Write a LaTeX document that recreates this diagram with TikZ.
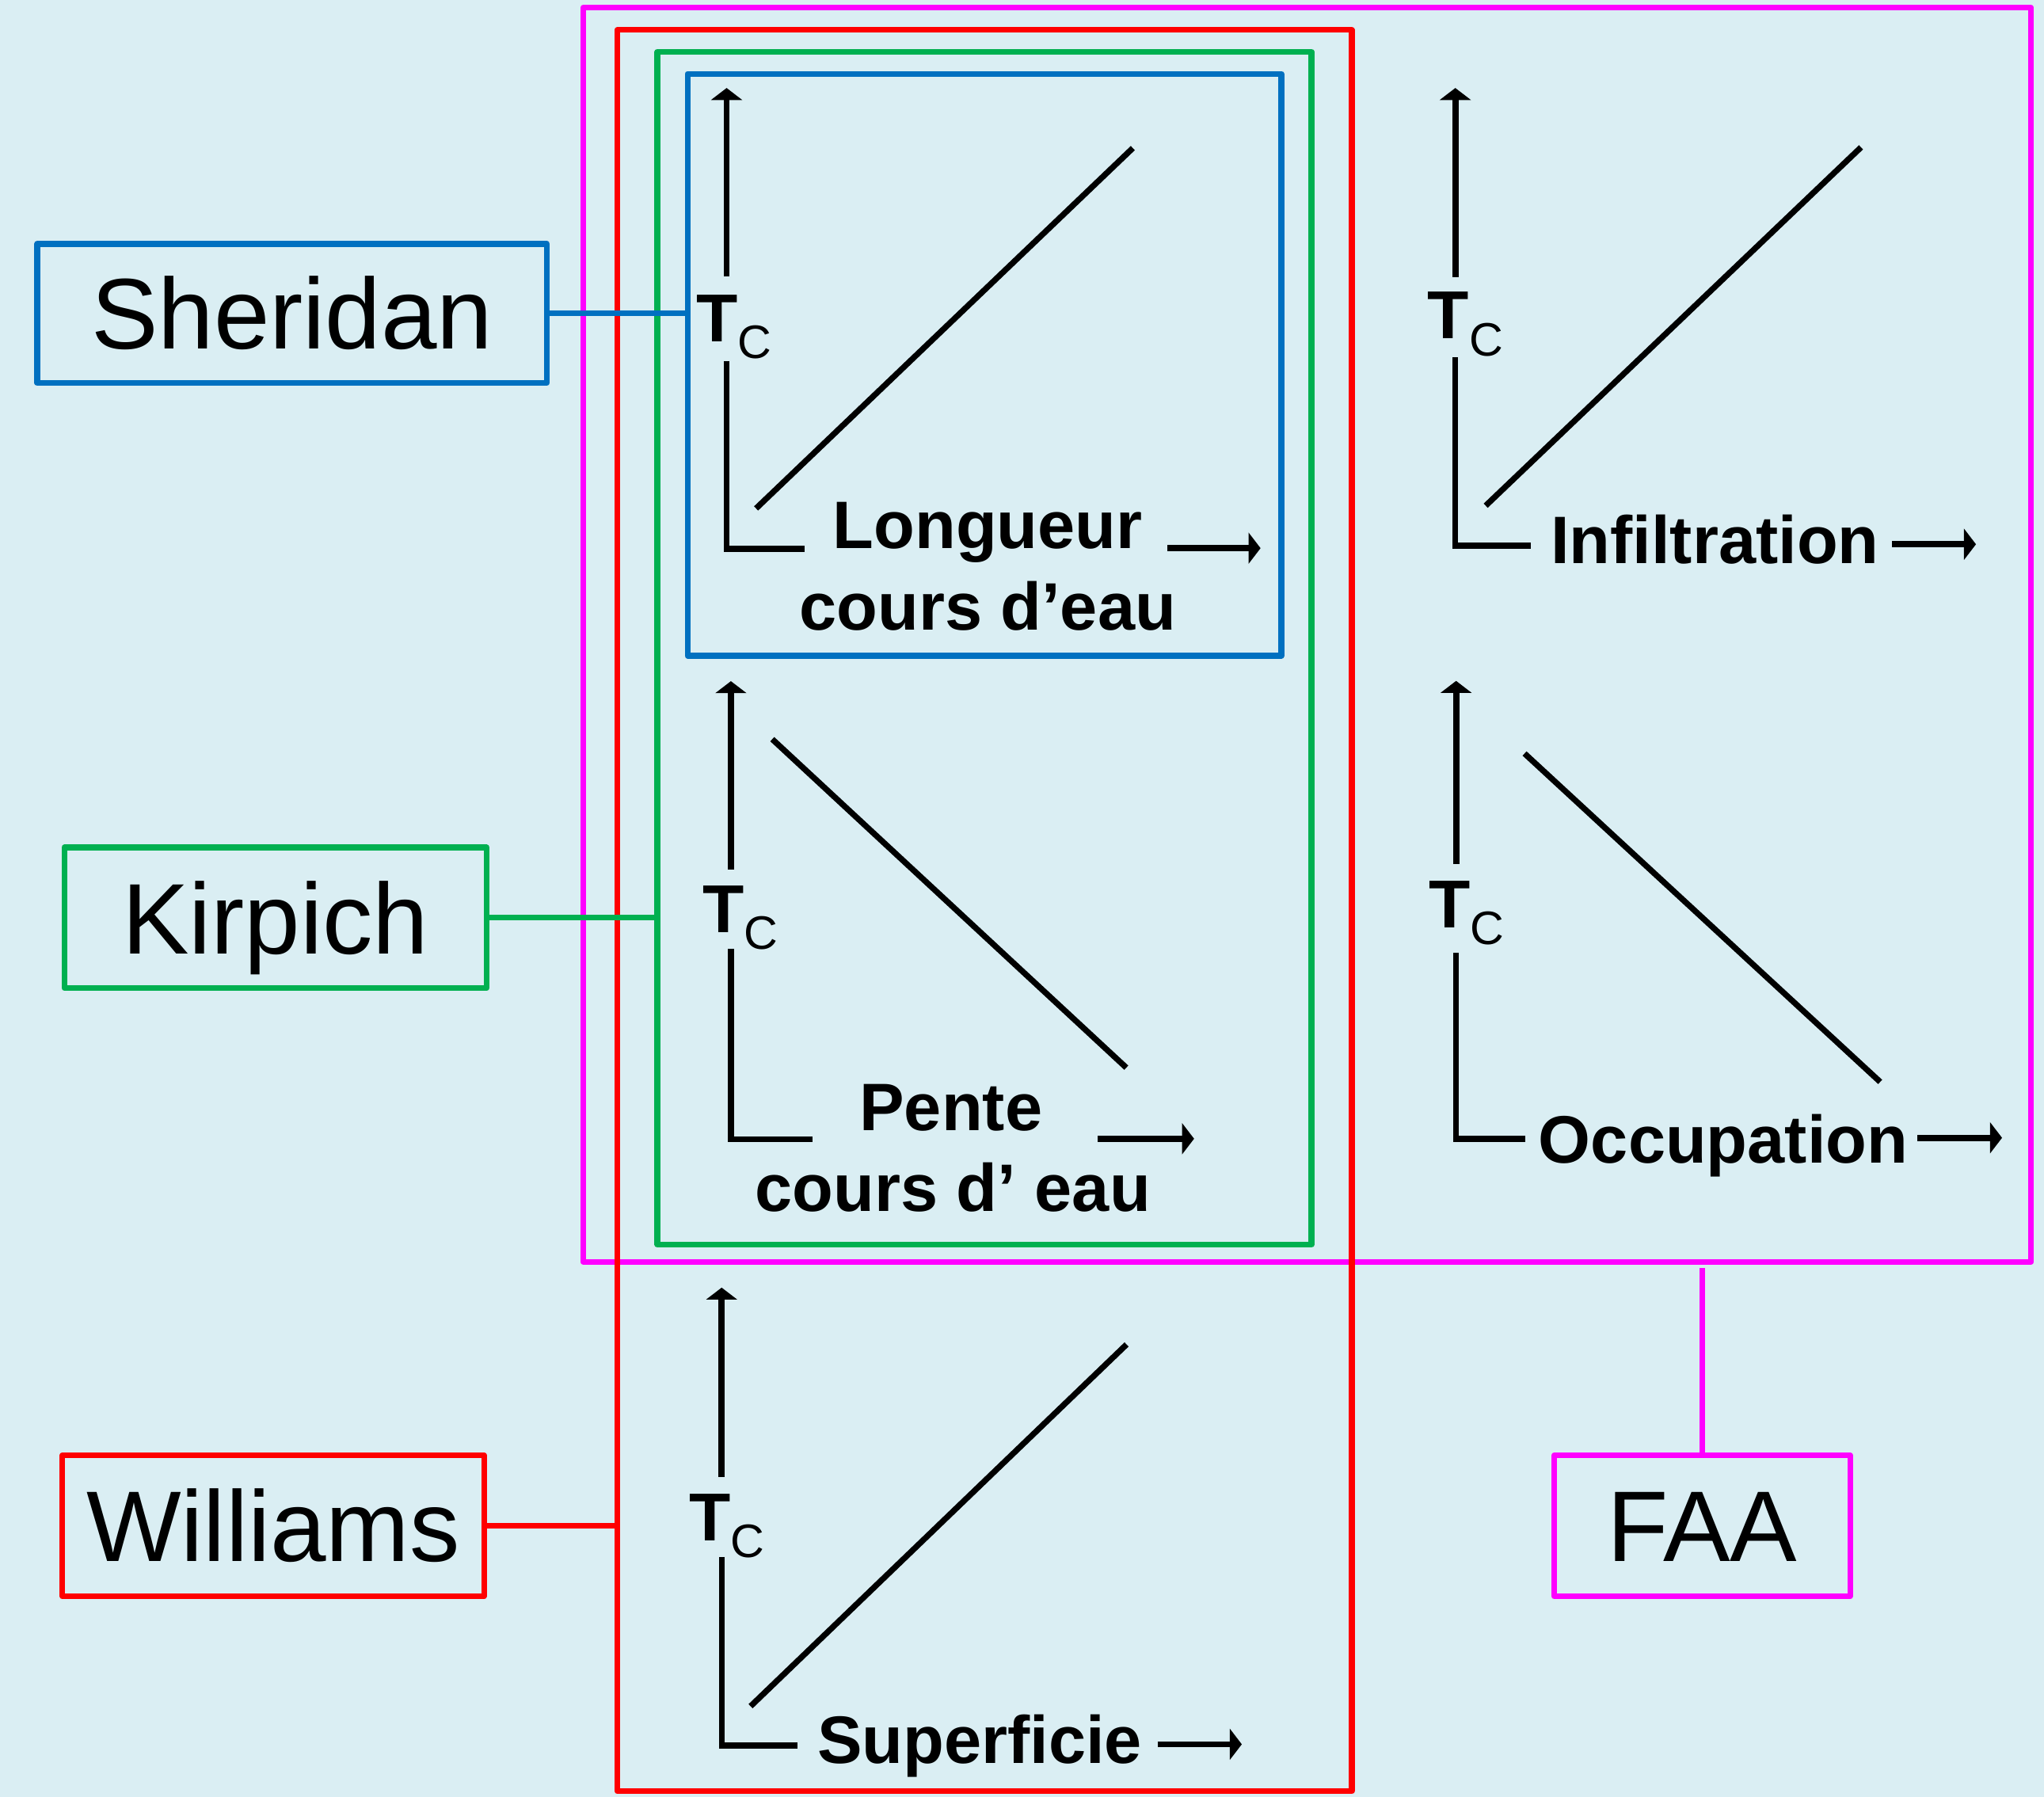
\documentclass[tikz,border=0pt]{standalone}
\usepackage{fontspec}
\setmainfont{Liberation Sans}
\usetikzlibrary{arrows.meta}
\definecolor{bgc}{HTML}{DAEEF3}
\definecolor{cblue}{HTML}{0070C0}
\definecolor{cgreen}{HTML}{00B050}
\definecolor{cred}{HTML}{FF0000}
\definecolor{cmag}{HTML}{FF00FF}
\newcommand{\TcLabel}{T\raisebox{-13pt}{\mdseries\fontsize{36}{40}\selectfont C}}
\begin{document}
\begin{tikzpicture}[x=1pt,y=-1pt,
  frame/.style={draw, line width=4.4pt, line join=round, inner sep=0pt, outer sep=0pt},
  namebox/.style={draw, line width=4.4pt, line join=round, inner sep=0pt, outer sep=0pt,
    text height=55pt, text depth=0pt, font=\fontsize{77}{80}\selectfont},
  link/.style={line width=4.2pt},
  axis/.style={line width=4.5pt, line join=miter},
  arr/.style={line width=4.7pt, -{Triangle[length=9.2pt,width=23.5pt]}},
  trend/.style={line width=4.5pt},
  vlab/.style={font=\bfseries\fontsize{51.5}{60}\selectfont, inner sep=0pt, anchor=base},
  tclab/.style={inner sep=0pt, anchor=base west, font=\bfseries\fontsize{52}{60}\selectfont}
]
% background / bounding box
\fill[bgc] (0,0) rectangle (1568,1378.4);
\useasboundingbox (0,0) rectangle (1568,1378.4);

% grouping frames
\node[frame, cmag, minimum width=1110.8pt, minimum height=962pt] (magframe) at (1002.7,486.9) {};
\node[frame, cred, minimum width=563.5pt, minimum height=1351pt] (redframe) at (755.25,698.5) {};
\node[frame, cgreen, minimum width=501.8pt, minimum height=914.9pt] (greenframe) at (755.2,497.25) {};
\node[frame, cblue, minimum width=455.5pt, minimum height=446.4pt] (blueframe) at (755.15,279.8) {};

% method boxes
\node[namebox, cblue, text=black, minimum width=391pt, minimum height=106.7pt] (sher) at (224,240.4) {Sheridan};
\node[namebox, cgreen, text=black, minimum width=323.9pt, minimum height=107.9pt] (kirp) at (211.3,704) {Kirpich};
\node[namebox, cred, text=black, minimum width=323.4pt, minimum height=108.1pt] (will) at (209.6,1170.4) {Williams};
\node[namebox, cmag, text=black, minimum width=226.9pt, minimum height=108.1pt] (faa) at (1305.8,1170.4) {FAA};

% connectors
\draw[link, cblue] (sher.east) -- (sher.east -| blueframe.west);
\draw[link, cgreen] (kirp.east) -- (kirp.east -| greenframe.west);
\draw[link, cred] (will.east) -- (will.east -| redframe.west);
\draw[link, cmag, shorten >=5pt] (faa.north) -- (faa.north |- magframe.south);

% ---- graph 1 : Longueur cours d'eau
\node[tclab] (tc1) at (534,262) {\TcLabel};
\draw[arr] (557.4,212) -- (557.4,67.5);
\draw[axis] (557.4,277) -- (557.4,421) -- (617,421);
\node[vlab] (l1a) at (757.7,421) {Longueur};
\node[vlab] (l1b) at (757.7,483) {cours d’eau};
\draw[arr] (895.5,420.5) -- (967,420.5);
\draw[trend] (580,390) -- (869,113.6);

% ---- graph 2 : Pente cours d' eau
\node[tclab] (tc2) at (539,715.4) {\TcLabel};
\draw[arr] (560.7,667) -- (560.7,522.5);
\draw[axis] (560.7,728) -- (560.7,874) -- (623.6,874);
\node[vlab] (l2a) at (729.5,867.3) {Pente};
\node[vlab] (l2b) at (731,929.3) {cours d’ eau};
\draw[arr] (842,873.5) -- (916,873.5);
\draw[trend] (592.4,567) -- (864,819);

% ---- graph 3 : Superficie
\node[tclab] (tc3) at (528.5,1181.7) {\TcLabel};
\draw[arr] (553.6,1132.7) -- (553.6,987.7);
\draw[axis] (553.6,1194.3) -- (553.6,1339) -- (611.5,1339);
\node[vlab] (l3) at (751.6,1352.5) {Superficie};
\draw[arr] (888,1338) -- (952.6,1338);
\draw[trend] (575.8,1308.8) -- (864.2,1031.3);

% ---- graph 4 : Infiltration
\node[tclab] (tc4) at (1095,260) {\TcLabel};
\draw[arr] (1116.4,212.4) -- (1116.4,67.5);
\draw[axis] (1116.4,274) -- (1116.4,418.5) -- (1174.4,418.5);
\node[vlab] (l4) at (1315.5,432.3) {Infiltration};
\draw[arr] (1451.4,417.5) -- (1515.8,417.5);
\draw[trend] (1139.7,387.9) -- (1427.6,113);

% ---- graph 5 : Occupation
\node[tclab] (tc5) at (1096,711.7) {\TcLabel};
\draw[arr] (1117,662.7) -- (1117,522.3);
\draw[axis] (1117,730.9) -- (1117,873.5) -- (1170,873.5);
\node[vlab] (l5) at (1322,892) {Occupation};
\draw[arr] (1470.8,872.8) -- (1535.8,872.8);
\draw[trend] (1169.5,578) -- (1442.3,829.9);
\end{tikzpicture}
\end{document}
